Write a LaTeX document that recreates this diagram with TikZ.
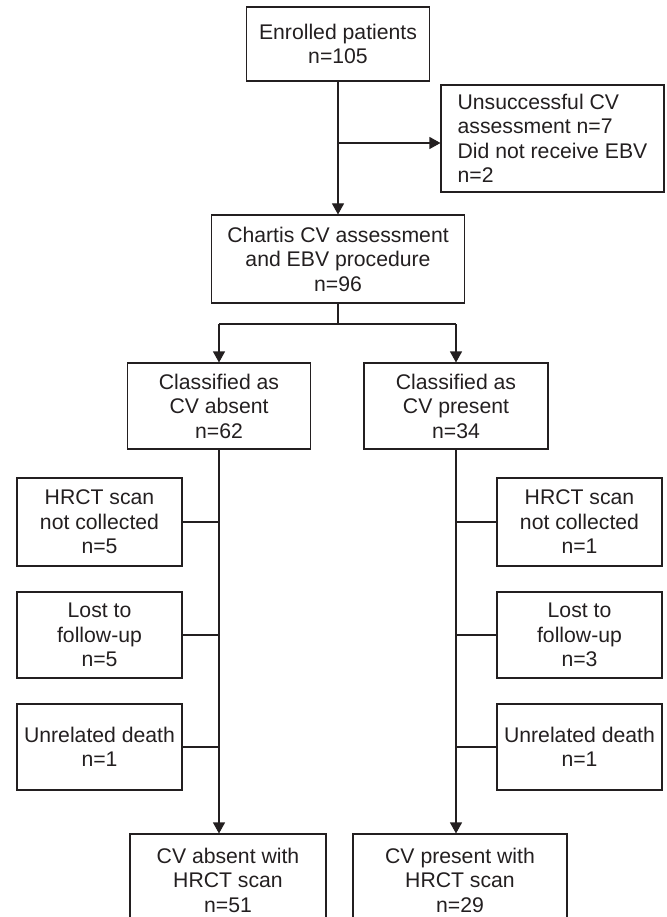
\documentclass[tikz,border=0pt]{standalone}
\usepackage{fontspec}
\setmainfont{Liberation Sans}
\usetikzlibrary{arrows.meta,calc}
\definecolor{ink}{RGB}{35,31,32}
\begin{document}
\begin{tikzpicture}[x=1pt,y=-1pt,
  box/.style={draw=ink,line width=1.1pt,text=ink,align=center,inner sep=0pt,
    font=\fontsize{21.2}{24.5}\selectfont},
  line/.style={draw=ink,line width=1.1pt},
  arr/.style={line,-{Triangle[width=12pt,length=11pt]}}]
\useasboundingbox (0,0) rectangle (666,917);
% top
\node[box,minimum width=183,minimum height=74] (enr) at (338,44) {Enrolled patients\\n=105};
\node[box,align=left,minimum width=223,minimum height=107] (uns) at (552.5,138.5)
  {Unsuccessful CV\\assessment n=7\\Did not receive EBV\\n=2};
\node[box,minimum width=253,minimum height=88] (cha) at (338,259) {Chartis CV assessment\\and EBV procedure\\n=96};
\node[box,minimum width=183,minimum height=86] (cla) at (219,406) {Classified as\\CV absent\\n=62};
\node[box,minimum width=184,minimum height=86] (clp) at (456,406) {Classified as\\CV present\\n=34};
% left exclusions
\node[box,minimum width=165,minimum height=88] (l1) at (99.5,522) {HRCT scan\\not collected\\n=5};
\node[box,minimum width=165,minimum height=86] (l2) at (99.5,635) {Lost to\\follow-up\\n=5};
\node[box,minimum width=165,minimum height=86] (l3) at (99.5,747) {Unrelated death\\n=1};
% right exclusions
\node[box,minimum width=165,minimum height=88] (r1) at (579.5,522) {HRCT scan\\not collected\\n=1};
\node[box,minimum width=165,minimum height=86] (r2) at (579.5,635) {Lost to\\follow-up\\n=3};
\node[box,minimum width=165,minimum height=86] (r3) at (579.5,747) {Unrelated death\\n=1};
% bottom
\node[box,minimum width=196,minimum height=92] (bl) at (228,880) {CV absent with\\HRCT scan\\n=51};
\node[box,minimum width=214,minimum height=92] (br) at (460,880) {CV present with\\HRCT scan\\n=29};
% connectors
\coordinate (c1) at (338,143);
\draw[arr] (enr.south) -- (cha.north);
\draw[arr] (c1) -- (c1 -| uns.west);
\coordinate (c2) at (338,324);
\draw[line] (cha.south) -- (c2);
\draw[line] (c2 -| cla) -- (c2 -| clp);
\draw[arr] (c2 -| cla) -- (cla.north);
\draw[arr] (c2 -| clp) -- (clp.north);
\draw[arr] (cla.south) -- (cla.south |- bl.north);
\draw[arr] (clp.south) -- (clp.south |- br.north);
\draw[line] (l1.east) -- (l1.east -| cla);
\draw[line] (l2.east) -- (l2.east -| cla);
\draw[line] (l3.east) -- (l3.east -| cla);
\draw[line] (r1.west) -- (r1.west -| clp);
\draw[line] (r2.west) -- (r2.west -| clp);
\draw[line] (r3.west) -- (r3.west -| clp);
\end{tikzpicture}
\end{document}
